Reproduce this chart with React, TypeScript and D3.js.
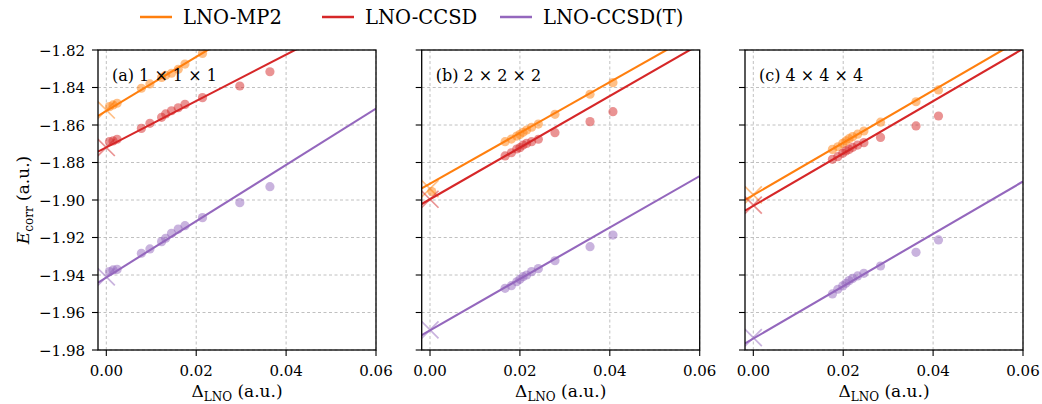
import React from 'react';
import * as d3 from 'd3';

// ---------- data ----------
const methods = ['LNO-MP2', 'LNO-CCSD', 'LNO-CCSD(T)'];
const colors = ['#ff7f0e', '#d62728', '#9467bd'];
const panelLabels = ['(a) 1 × 1 × 1', '(b) 2 × 2 × 2', '(c) 4 × 4 × 4'];
const xTicks = [0, 0.02, 0.04, 0.06];
const yTicks = [-1.82, -1.84, -1.86, -1.88, -1.9, -1.92, -1.94, -1.96, -1.98];

// panel (a) 1x1x1
const deltaA = [0.0007, 0.0015, 0.0024, 0.0078, 0.0097, 0.0123, 0.0132, 0.0145, 0.016, 0.0175, 0.0214, 0.0297, 0.0364];
const mp2A = [-1.8502, -1.8493, -1.8484, -1.8404, -1.8381, -1.8346, -1.8335, -1.8324, -1.8303, -1.8275, -1.8218, null, null];
const ccsdA = [-1.8689, -1.8685, -1.8676, -1.8618, -1.8591, -1.8559, -1.8541, -1.8524, -1.8508, -1.849, -1.8454, -1.8392, -1.8316];
const ccsdtA = [-1.9382, -1.9373, -1.937, -1.9284, -1.9261, -1.9222, -1.9204, -1.9178, -1.9155, -1.9137, -1.9094, -1.9014, -1.8929];

// panel (b) 2x2x2
const deltaB = [0.0004, 0.0167, 0.0181, 0.0193, 0.02, 0.0207, 0.0215, 0.0226, 0.0241, 0.0278, 0.0356, 0.0407];
const mp2B = [-1.8955, -1.8689, -1.8675, -1.8659, -1.865, -1.8639, -1.8627, -1.8612, -1.8595, -1.8543, -1.8436, -1.8374];
const ccsdB = [null, -1.8765, -1.8748, -1.8728, -1.8721, -1.8707, -1.8698, -1.8689, -1.8676, -1.8641, -1.8582, -1.8529];
const ccsdtB = [null, -1.9471, -1.9457, -1.9436, -1.9423, -1.9409, -1.94, -1.9382, -1.9366, -1.9324, -1.9249, -1.9187];

// panel (c) 4x4x4
const deltaC = [0.0176, 0.0188, 0.0199, 0.0206, 0.0213, 0.0221, 0.0232, 0.0246, 0.0283, 0.0362, 0.0412];
const mp2C = [-1.873, -1.8716, -1.8698, -1.8685, -1.8673, -1.8662, -1.8649, -1.8632, -1.8585, -1.8476, -1.8413];
const ccsdC = [-1.8783, -1.8769, -1.8751, -1.8738, -1.873, -1.8719, -1.8707, -1.8694, -1.8666, -1.8605, -1.8552];
const ccsdtC = [-1.9501, -1.9476, -1.9458, -1.9444, -1.943, -1.9418, -1.9405, -1.9391, -1.9352, -1.9279, -1.9213];

// linear fits (intercept, slope) per panel per method
const fitInterceptA = [-1.8525, -1.8719, -1.9413];
const fitSlopeA = [1.442, 1.236, 1.501];
const fitInterceptB = [-1.8913, -1.8996, -1.9695];
const fitSlopeB = [1.355, 1.377, 1.371];
const fitInterceptC = [-1.8974, -1.9031, -1.9739];
const fitSlopeC = [1.395, 1.396, 1.396];

// extrapolated values at Delta = 0 (cross markers)
const extrapA = [-1.852, -1.872, -1.941];
const extrapB = [-1.894, -1.8996, -1.9693];
const extrapC = [-1.8973, -1.9027, -1.9734];

const panels = [
  { label: panelLabels[0], x: deltaA, ys: [mp2A, ccsdA, ccsdtA], b: fitInterceptA, m: fitSlopeA, ex: extrapA },
  { label: panelLabels[1], x: deltaB, ys: [mp2B, ccsdB, ccsdtB], b: fitInterceptB, m: fitSlopeB, ex: extrapB },
  { label: panelLabels[2], x: deltaC, ys: [mp2C, ccsdC, ccsdtC], b: fitInterceptC, m: fitSlopeC, ex: extrapC },
];

// ---------- layout ----------
const W = 1042, H = 404;
const top = 50, bottom = 350;
const panelW = 278;
const panelLeft = [98, 421.7, 745];
const FONT = '"DejaVu Serif", serif';
const FS = 15;
const LFS = 19.5;
const PFS = 16;
const AFS = 17;

const xScale = d3.scaleLinear().domain([-0.00185, 0.06]).range([0, panelW]);
const yScale = d3.scaleLinear().domain([-1.98, -1.82]).range([bottom, top]);

function Panel({ p, i }: { p: any; i: number }) {
  const left = panelLeft[i];
  const xd = xScale.domain();
  const clipId = `clip${i}`;
  return (
    <g transform={`translate(${left},0)`}>
      <defs>
        <clipPath id={clipId}>
          <rect x={0} y={top} width={panelW} height={bottom - top} />
        </clipPath>
      </defs>
      {xTicks.map((t) => (
        <line key={'gx' + t} x1={xScale(t)} x2={xScale(t)} y1={top} y2={bottom}
          stroke="#b0b0b0" strokeWidth={0.8} strokeDasharray="3,2.5" />
      ))}
      {yTicks.map((t) => (
        <line key={'gy' + t} x1={0} x2={panelW} y1={yScale(t)} y2={yScale(t)}
          stroke="#b0b0b0" strokeWidth={0.8} strokeDasharray="3,2.5" />
      ))}
      <g clipPath={`url(#${clipId})`}>
        {p.ys.map((ys: (number | null)[], k: number) => {
          const pts = p.x.map((x: number, j: number) => [x, ys[j]]).filter((d: any) => d[1] !== null);
          const lineGen = d3.line<number>().x((x) => xScale(x)).y((x) => yScale(p.b[k] + p.m[k] * x));
          const cx = xScale(0), cy = yScale(p.ex[k]);
          const s = 8.5;
          return (
            <g key={k}>
              {pts.map((d: number[], j: number) => (
                <circle key={j} cx={xScale(d[0])} cy={yScale(d[1])} r={4.6} fill={colors[k]} fillOpacity={0.5} />
              ))}
              <path d={`M${cx - s},${cy - s}L${cx + s},${cy + s}M${cx - s},${cy + s}L${cx + s},${cy - s}`}
                stroke={colors[k]} strokeOpacity={0.5} strokeWidth={1.7} />
              <path d={lineGen(xd) || ''} stroke={colors[k]} strokeWidth={2.1} fill="none" />
            </g>
          );
        })}
      </g>
      <rect x={0} y={top} width={panelW} height={bottom - top} fill="none" stroke="#000" strokeWidth={1.3} />
      {xTicks.map((t) => (
        <g key={'xt' + t}>
          <line x1={xScale(t)} x2={xScale(t)} y1={bottom} y2={bottom + 6} stroke="#000" strokeWidth={1.1} />
          <text x={xScale(t)} y={bottom + 26} textAnchor="middle" fontFamily={FONT} fontSize={FS}>{t.toFixed(2)}</text>
        </g>
      ))}
      {yTicks.map((t) => (
        <g key={'yt' + t}>
          <line x1={-6} x2={0} y1={yScale(t)} y2={yScale(t)} stroke="#000" strokeWidth={1.1} />
          {i === 0 && (
            <text x={-13} y={yScale(t) + 5.5} textAnchor="end" fontFamily={FONT} fontSize={FS}>{'\u2212' + Math.abs(t).toFixed(2)}</text>
          )}
        </g>
      ))}
      <text x={14} y={81} fontFamily={FONT} fontSize={PFS}>{p.label}</text>
      <text x={panelW / 2} y={397} textAnchor="middle" fontFamily={FONT} fontSize={AFS}>
        Δ<tspan fontSize={12} dy={3.5}>LNO</tspan><tspan dy={-3.5}> (a.u.)</tspan>
      </text>
    </g>
  );
}

export default function App() {
  const legendX = [140, 322, 500];
  return (
    <svg width={W} height={H} style={{ position: 'absolute', left: 0, top: 0, background: '#fff' }}>
      {panels.map((p, i) => <Panel key={i} p={p} i={i} />)}
      <text transform={`translate(29,${(top + bottom) / 2}) rotate(-90)`} textAnchor="middle" fontFamily={FONT} fontSize={AFS}>
        <tspan fontStyle="italic">E</tspan><tspan fontSize={12} dy={3.5}>corr</tspan><tspan dy={-3.5}> (a.u.)</tspan>
      </text>
      {methods.map((m, k) => (
        <g key={m}>
          <line x1={legendX[k]} x2={legendX[k] + 32} y1={17} y2={17} stroke={colors[k]} strokeWidth={2.5} />
          <text x={legendX[k] + 43} y={23.5} fontFamily={FONT} fontSize={LFS}>{m}</text>
        </g>
      ))}
    </svg>
  );
}
